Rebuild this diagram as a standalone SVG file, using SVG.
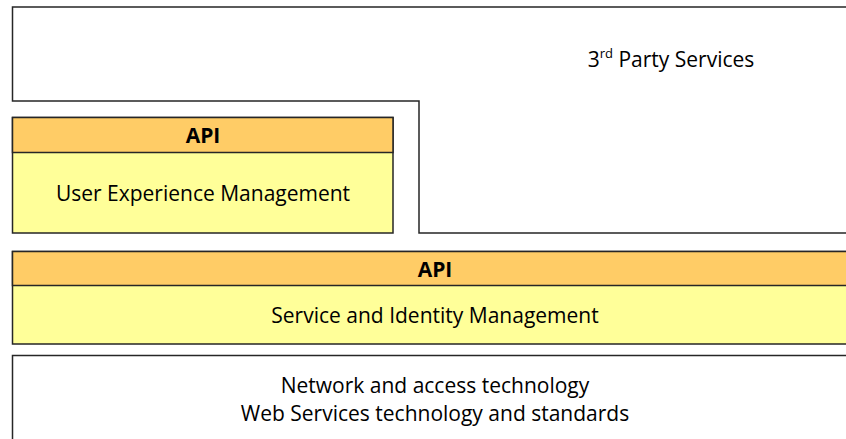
<svg xmlns="http://www.w3.org/2000/svg" width="846" height="439" viewBox="0 0 846 439">
  <style>
    .frame { stroke: #262626; stroke-width: 1.5; }
    .plain { fill: #ffffff; }
    .hdr { fill: #ffcc66; }
    .body { fill: #ffff99; }
    text { font-family: "Open Sans", "Noto Sans", sans-serif; font-size: 21px; fill: #000; text-anchor: middle; }
    .bold { font-weight: bold; font-size: 21px; }
  </style>
  <rect width="846" height="439" fill="#ffffff"/>

  <!-- L-shaped third-party services block -->
  <g id="third-party">
    <path class="frame plain" d="M 860 7 L 12.5 7 L 12.5 101 L 419 101 L 419 233 L 860 233"/>
    <text x="671" y="67">3<tspan font-size="13" dy="-9">rd</tspan><tspan dy="9"> Party Services</tspan></text>
  </g>

  <!-- User experience management -->
  <g id="uxm">
    <rect class="frame body" x="12.5" y="117.5" width="380.5" height="115.5"/>
    <rect class="frame hdr" x="12.5" y="117.5" width="380.5" height="35"/>
    <text class="bold" x="203" y="143">API</text>
    <text x="203" y="201">User Experience Management</text>
  </g>

  <!-- Service and identity management -->
  <g id="sim">
    <rect class="frame body" x="12.5" y="251.5" width="860" height="92.5"/>
    <rect class="frame hdr" x="12.5" y="251.5" width="860" height="34"/>
    <text class="bold" x="435" y="277">API</text>
    <text x="435" y="323">Service and Identity Management</text>
  </g>

  <!-- Network and web services foundation -->
  <g id="network">
    <rect class="frame plain" x="12.5" y="355.5" width="860" height="100"/>
    <text x="435" y="393">Network and access technology</text>
    <text x="435" y="421">Web Services technology and standards</text>
  </g>

  <g id="connectors"/>
</svg>
